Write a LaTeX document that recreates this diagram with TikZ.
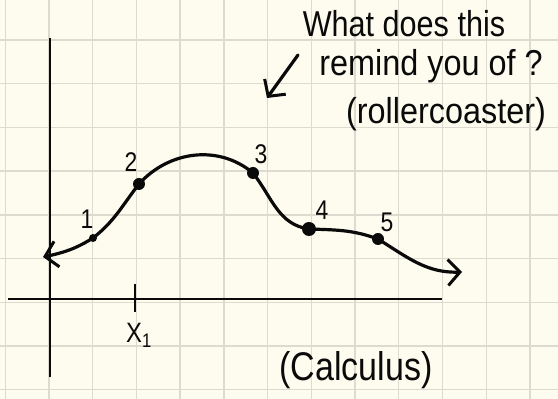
\documentclass[tikz,border=0pt]{standalone}
\usepackage{fontspec}
\usepackage{xcolor}
\usepackage{tikz}
\usetikzlibrary{arrows.meta, positioning}
\newfontfamily\handfont[FakeStretch=0.85]{Liberation Sans}
\newfontfamily\widehand[FakeStretch=0.9]{Liberation Sans}
\definecolor{paper}{HTML}{FDFCEF}
\definecolor{gridgray}{HTML}{DDDBD0}
\definecolor{ink}{HTML}{0A0A0A}

\begin{document}
\begin{tikzpicture}[
  x=1pt, y=1pt,
  gridline/.style={draw=gridgray, line width=1.4pt},
  axis/.style={draw=ink, line width=2.8pt},
  curve/.style={draw=ink, line width=3.2pt, line cap=round},
  handbarb/.tip={Straight Barb[length=12pt, width=26pt, line width=3pt]},
  dot/.style={circle, fill=ink, inner sep=0pt, minimum size=12pt},
  smalldot/.style={circle, fill=ink, inner sep=0pt, minimum size=8pt},
  num/.style={font=\handfont\fontsize{27}{27}\selectfont, ink},
  note/.style={font=\handfont\fontsize{36}{40}\selectfont, anchor=base, ink},
]

% paper and grid
\fill[paper] (0,0) rectangle (558,399);
\useasboundingbox (0,0) rectangle (558,399);
\begin{scope}[shift={(5.3,9.3)}]
  \draw[gridline, step=43.72] (-5.3,-9.3) grid (552.7,389.7);
\end{scope}

% axes
\coordinate (ytop) at (50,361);
\coordinate (ybot) at (50,22);
\coordinate (xleft) at (8,100);
\coordinate (xright) at (442,100);
\draw[axis] (ybot) -- (ytop);
\draw[axis] (xleft) -- (xright);
\coordinate (tickup) at (135,115);
\coordinate (tickdn) at (135,87);
\draw[axis] (tickdn) -- (tickup);
\node[font=\handfont\fontsize{28}{28}\selectfont, ink] (xone) at (139,64) {X\textsubscript{1}};

% the track
\coordinate (start) at (43,142);
\node[smalldot] (p1) at (93,161) {};
\node[dot] (p2) at (139,215) {};
\node[dot] (p3) at (253,226) {};
\node[dot, minimum width=11pt, minimum height=14pt] (p4) at (309,170) {};
\node[dot] (p5) at (378,160) {};
\coordinate (finish) at (462,127);
\draw[curve, handbarb-handbarb] (start) to[out=12, in=212] (p1.center)
  to[out=38, in=232] (p2.center)
  to[out=48, in=140] (p3.center)
  to[out=-52, in=172] (p4.center)
  to[out=-2, in=160] (p5.center)
  to[out=-32, in=182] (finish);

\node[num] (l1) at (87,180) {1};
\node[num] (l2) at (131,237) {2};
\node[num] (l3) at (261,245) {3};
\node[num] (l4) at (322,189) {4};
\node[num] (l5) at (387,177) {5};

% question
\node[note] (q1) at (404,362) {What does this};
\node[note, font=\widehand\fontsize{36}{40}\selectfont] (q2) at (431,323) {remind you of ?};
\node[note, font=\widehand\fontsize{36}{40}\selectfont] (q3) at (446,275) {(rollercoaster)};
\coordinate (pfrom) at (298,344);
\coordinate (pto) at (267,301);
\draw[curve, -handbarb] (pfrom) -- (pto);

\node[note, font=\handfont\fontsize{40}{44}\selectfont] (calc) at (356,18) {(Calculus)};
\end{tikzpicture}
\end{document}
